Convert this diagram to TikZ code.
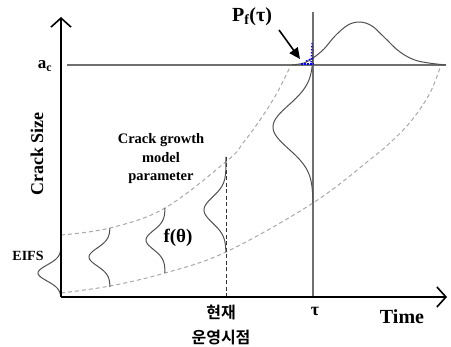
\documentclass[tikz,border=0pt]{standalone}
\usepackage{fontspec}
\setmainfont{Liberation Serif}
\newfontfamily\kr{Noto Sans CJK KR}[BoldFont={Noto Sans CJK KR Bold}]
\usetikzlibrary{arrows.meta}
\definecolor{curvec}{HTML}{505050}
\definecolor{dashc}{HTML}{A8A8A8}
\definecolor{linec}{HTML}{707070}
\begin{document}
\begin{tikzpicture}[x=1pt,y=-1pt,
  axis/.style={line width=1.8pt, -{Straight Barb[length=9pt,width=20pt,line width=1.6pt]}},
  dist/.style={curvec, line width=1pt},
  gdash/.style={dashc, line width=1pt, dash pattern=on 4pt off 3pt},
  vdash/.style={black!80, line width=0.9pt, dash pattern=on 4pt off 2.5pt},
  refline/.style={linec, line width=1.1pt},
  lbl/.style={font=\bfseries, inner sep=0pt},
  krl/.style={font=\kr\fontsize{16}{18}\selectfont, inner sep=0pt}]
\useasboundingbox (0,0) rectangle (451,347);
% coordinates
\coordinate (O) at (61,297);
\coordinate (Ytip) at (61,17);
\coordinate (Xtip) at (447,297);
\coordinate (acL) at (67,65);
\coordinate (acR) at (446,65);
\coordinate (tauT) at (313,12);
\coordinate (tauB) at (313,297);
\coordinate (nowT) at (226,157);
\coordinate (nowB) at (226,297);
\coordinate (Pa) at (279,30);
\coordinate (Pb) at (300,59);
% dashed bounds
\draw[gdash] plot[smooth, tension=0.6] coordinates {(61,235) (110,228) (165,208) (228,160) (243,143) (260,120) (277,93) (291,65)};
\draw[gdash] plot[smooth, tension=0.6] coordinates {(61,293) (110,286) (165,273) (226,252) (313,203) (372,158) (393,140) (412,120) (430,93) (441,65)};
% reference lines
\draw[refline] (acL) -- (acR);
\draw[refline] (tauT) -- (tauB);
\draw[vdash] (nowT) -- (nowB);
% distributions
\draw[dist] plot[domain=247:296, samples=50, variable=\t] ({61-23*exp(-((\t-273)/8)^2/2)}, {\t});
\draw[dist] plot[domain=228:287, samples=50, variable=\t] ({110-21*exp(-((\t-257)/9)^2/2)}, {\t});
\draw[dist] plot[domain=208:273, samples=50, variable=\t] ({165-19*exp(-((\t-240)/9.5)^2/2)}, {\t});
\draw[dist] plot[domain=157:252, samples=60, variable=\t] ({226-22*exp(-((\t-210)/13)^2/2)}, {\t});
\draw[dist] plot[domain=45:203, samples=90, variable=\t] ({313-40*exp(-((\t-127)/22)^2/2)}, {\t});
\draw[dist] plot[smooth, tension=0.6] coordinates {(292,65) (304,63) (313,58) (324,49) (335,36) (348,25) (360,22) (372,26) (384,37) (400,52) (418,61) (446,65)};
% Pf region
\draw[blue, line width=1.3pt, dash pattern=on 1.5pt off 1.5pt] (301,64) -- (314,64);
\draw[blue, line width=1.3pt, dash pattern=on 1.5pt off 1.5pt] (312,43) -- (311,64);
\draw[blue, line width=1.3pt, dash pattern=on 1.5pt off 1.5pt] (306,61) -- (313,58);
% axes
\draw[axis] (O) -- (Ytip);
\draw[axis] (O) -- (Xtip);
% arrow
\draw[line width=1.6pt, -{Triangle[length=11pt,width=10pt]}] (Pa) -- (Pb);
% labels
\node[lbl, font=\bfseries\fontsize{20}{22}\selectfont] (pf) at (252,17) {P\textsubscript{f}(τ)};
\node[lbl, font=\bfseries\fontsize{17}{19}\selectfont] (ac) at (45,66) {a\textsubscript{c}};
\node[lbl, font=\bfseries\fontsize{18}{20}\selectfont, rotate=90] (cs) at (37,154) {Crack Size};
\node[lbl, font=\bfseries\fontsize{14.5}{18.5}\selectfont, align=center] (cg) at (161,159) {Crack growth\\model\\parameter};
\node[lbl, font=\bfseries\fontsize{19}{21}\selectfont] (ft) at (178,238) {f(θ)};
\node[lbl, font=\bfseries\fontsize{14}{16}\selectfont] (eifs) at (28,256) {EIFS};
\node[lbl, font=\bfseries\fontsize{18}{20}\selectfont] (tau) at (315,311) {τ};
\node[lbl, font=\bfseries\fontsize{20}{22}\selectfont] (time) at (402,317) {Time};
\node[krl, font=\kr\bfseries\fontsize{16}{18}\selectfont] (now1) at (221,312) {현재};
\node[krl, font=\kr\bfseries\fontsize{16}{18}\selectfont] (now2) at (221,338) {운영시점};
\end{tikzpicture}
\end{document}
